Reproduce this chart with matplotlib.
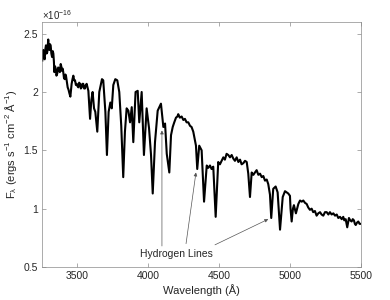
import matplotlib
matplotlib.use("Agg")
import matplotlib.pyplot as plt

plt.rcParams['font.family'] = ['Liberation Sans', 'DejaVu Sans']
plt.rcParams['mathtext.fontset'] = 'custom'
plt.rcParams['mathtext.rm'] = 'Liberation Sans'
plt.rcParams['mathtext.it'] = 'Liberation Sans:italic'
plt.rcParams['mathtext.default'] = 'regular'

wavelength = [3252, 3256, 3259, 3264, 3269, 3274, 3278, 3283, 3287, 3291,
              3294, 3298, 3302, 3306, 3311, 3316, 3321, 3326, 3330, 3334,
              3337, 3342, 3347, 3352, 3358, 3364, 3370, 3376, 3382, 3386,
              3391, 3396, 3400, 3405, 3410, 3415, 3419, 3425, 3431, 3437,
              3443, 3450, 3459, 3465, 3471, 3477, 3483, 3489, 3495, 3500,
              3506, 3512, 3518, 3524, 3530, 3535, 3541, 3547, 3553, 3559,
              3565, 3571, 3577, 3589, 3598, 3607, 3617, 3626, 3640, 3654,
              3673, 3682, 3697, 3708, 3720, 3732, 3742, 3753, 3767, 3781,
              3795, 3809, 3823, 3835, 3847, 3859, 3871, 3883, 3894, 3910,
              3925, 3936, 3953, 3969, 3988, 4005, 4019, 4031, 4047, 4066,
              4089, 4106, 4118, 4130, 4148, 4160, 4172, 4183, 4195, 4205,
              4211, 4222, 4235, 4247, 4258, 4270, 4282, 4294, 4305, 4317,
              4336, 4345, 4359, 4376, 4393, 4412, 4423, 4435, 4446, 4458,
              4475, 4493, 4505, 4517, 4529, 4540, 4552, 4564, 4576, 4588,
              4599, 4611, 4623, 4635, 4647, 4658, 4670, 4682, 4694, 4705,
              4717, 4729, 4741, 4752, 4764, 4776, 4788, 4800, 4811, 4823,
              4835, 4846, 4858, 4867, 4881, 4898, 4912, 4929, 4948, 4964,
              4976, 4987, 4999, 5003, 5011, 5020, 5027, 5041, 5058, 5070,
              5082, 5093, 5105, 5117, 5128, 5140, 5152, 5163, 5175, 5187,
              5199, 5211, 5222, 5234, 5246, 5258, 5270, 5281, 5293, 5305,
              5317, 5329, 5340, 5352, 5364, 5375, 5382, 5392, 5403, 5415,
              5424, 5434, 5442, 5450, 5457, 5463, 5472, 5481, 5490, 5500]
flux = [2.27, 2.33, 2.36, 2.30, 2.28, 2.37, 2.40, 2.33, 2.34, 2.41,
        2.45, 2.38, 2.36, 2.41, 2.40, 2.33, 2.30, 2.35, 2.33, 2.26,
        2.17, 2.22, 2.20, 2.14, 2.16, 2.21, 2.20, 2.17, 2.24, 2.22,
        2.18, 2.20, 2.17, 2.12, 2.11, 2.15, 2.14, 2.09, 2.04, 2.02,
        1.99, 1.96, 2.07, 2.11, 2.14, 2.10, 2.10, 2.06, 2.07, 2.05,
        2.04, 2.08, 2.07, 2.03, 2.04, 2.07, 2.07, 2.03, 2.03, 2.06,
        2.07, 2.04, 2.01, 1.77, 1.93, 2.00, 1.86, 1.83, 1.66, 2.00,
        2.11, 2.10, 1.83, 1.46, 1.83, 1.91, 1.86, 2.06, 2.11, 2.10,
        2.00, 1.71, 1.27, 1.66, 1.86, 1.84, 1.74, 1.87, 1.57, 2.00,
        2.01, 1.74, 2.00, 1.46, 1.86, 1.69, 1.46, 1.13, 1.57, 1.84,
        1.90, 1.70, 1.73, 1.47, 1.31, 1.63, 1.70, 1.74, 1.78, 1.79,
        1.81, 1.78, 1.79, 1.76, 1.77, 1.74, 1.74, 1.71, 1.70, 1.66,
        1.54, 1.34, 1.54, 1.50, 1.06, 1.37, 1.35, 1.37, 1.34, 1.36,
        0.93, 1.40, 1.38, 1.41, 1.44, 1.42, 1.47, 1.46, 1.44, 1.46,
        1.43, 1.41, 1.44, 1.40, 1.42, 1.38, 1.39, 1.41, 1.40, 1.30,
        1.10, 1.31, 1.29, 1.31, 1.33, 1.29, 1.30, 1.27, 1.28, 1.24,
        1.25, 1.21, 1.12, 0.92, 1.17, 1.19, 1.14, 0.82, 1.10, 1.15,
        1.14, 1.13, 1.11, 1.00, 0.89, 1.00, 1.03, 0.96, 1.04, 1.07,
        1.06, 1.07, 1.05, 1.04, 1.01, 0.99, 1.00, 0.97, 0.98, 0.94,
        0.96, 0.97, 0.95, 0.94, 0.97, 0.97, 0.95, 0.97, 0.95, 0.96,
        0.94, 0.95, 0.92, 0.93, 0.91, 0.93, 0.90, 0.91, 0.84, 0.92,
        0.90, 0.89, 0.91, 0.90, 0.87, 0.86, 0.88, 0.89, 0.87, 0.87]
scale = 1e-16

x_ticks = [3500, 4000, 4500, 5000, 5500]
y_ticks = [0.5, 1, 1.5, 2, 2.5]
y_tick_labels = ['0.5', '1', '1.5', '2', '2.5']

annot_text = 'Hydrogen Lines'
annot_text_pos = (4200, 0.615)
annot_targets = [(4096, 1.67), (4336, 1.31), (4846, 0.91)]
annot_starts = [(4096, 0.68), (4266, 0.70), (4470, 0.69)]

fig = plt.figure(figsize=(3.9, 3.0), dpi=100)
ax = fig.add_axes([0.1077, 0.11, 0.8179, 0.8167])

ax.plot(wavelength, [f * scale for f in flux], color='black', lw=1.5)

ax.set_xlim(3250, 5500)
ax.set_ylim(0.5 * scale, 2.6 * scale)
ax.set_xticks(x_ticks)
ax.set_xticklabels([str(t) for t in x_ticks])
ax.set_yticks([t * scale for t in y_ticks])
ax.set_yticklabels(y_tick_labels)

gray = '#262626'
for sp in ax.spines.values():
    sp.set_linewidth(0.5)
    sp.set_color('#8a8a8a')
ax.tick_params(direction='in', length=3, width=0.5, colors='#8a8a8a',
               labelcolor='#262626', labelsize=7.5, top=True, right=True,
               pad=3)

ax.set_xlabel('Wavelength (Å)', fontsize=8, color=gray, labelpad=2)
ax.set_ylabel(r'F$_\lambda$ (ergs s$^{-1}$ cm$^{-2}$ Å$^{-1}$)', fontsize=8,
              color=gray, labelpad=3)

fig.text(0.108, 0.935, r'$\times$10$^{-16}$', fontsize=7, color=gray,
         ha='left', va='baseline')

ax.text(annot_text_pos[0], annot_text_pos[1] * scale, annot_text,
        fontsize=7.5, color=gray, ha='center', va='center')
for (tx, ty), (sx, sy) in zip(annot_targets, annot_starts):
    ax.annotate('', xy=(tx, ty * scale), xytext=(sx, sy * scale),
                arrowprops=dict(arrowstyle='-|>', color='#555555', lw=0.5,
                                mutation_scale=5, shrinkA=0, shrinkB=0))

fig.savefig('out.png', dpi=100)
